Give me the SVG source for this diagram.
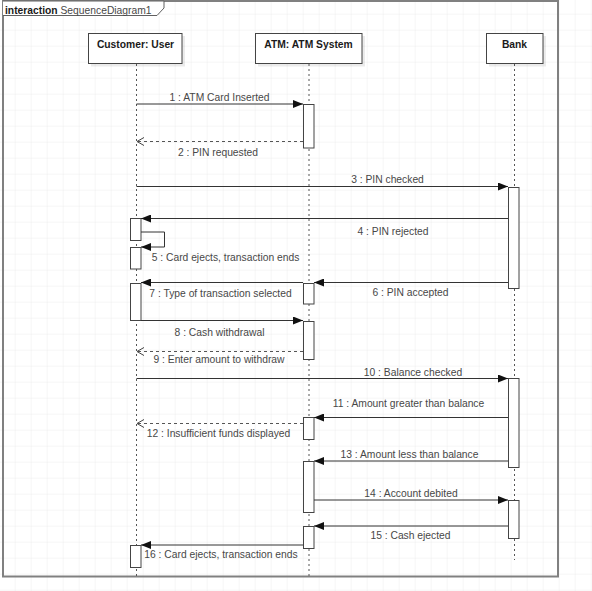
<svg xmlns="http://www.w3.org/2000/svg" width="592" height="591" viewBox="0 0 592 591">
  <defs>
    <pattern id="grid" x="-0.3" y="-1.3" width="16" height="16" patternUnits="userSpaceOnUse">
      <path d="M16 0 V16 M0 16 H16" fill="none" stroke="#ededed" stroke-width="1"/>
    </pattern>
    <marker id="filled" markerWidth="10" markerHeight="8" refX="10" refY="4" orient="auto" markerUnits="userSpaceOnUse">
      <path d="M0,0 L10,4 L0,8 Z" fill="#111"/>
    </marker>
    <marker id="open" markerWidth="8" markerHeight="10" refX="7" refY="5" orient="auto" markerUnits="userSpaceOnUse">
      <path d="M0,1 L7,5 L0,9" fill="none" stroke="#444" stroke-width="1"/>
    </marker>
  </defs>
  <style>
    text { font-family: "Liberation Sans", Arial, sans-serif; font-size: 10.3px; fill: #474747; }
    .head { font-weight: bold; fill: #1a1a1a; text-anchor: middle; }
    .lbl { text-anchor: middle; }
    .box { fill: #fff; stroke: #444; stroke-width: 1; }
    .shadow { fill: #000; opacity: 0.08; }
    .life { stroke: #555; stroke-width: 1; stroke-dasharray: 2 3; fill: none; }
    .act { fill: #fff; stroke: #444; stroke-width: 1; }
    .msg { stroke: #333; stroke-width: 1; fill: none; marker-end: url(#filled); }
    .ret { stroke: #555; stroke-width: 1; stroke-dasharray: 3 3; fill: none; marker-end: url(#open); }
  </style>
  <rect width="592" height="591" fill="#fff"/>
  <rect width="592" height="591" fill="url(#grid)"/>

  <g id="frame">
    <rect x="3" y="1" width="555" height="575.5" fill="none" stroke="#808080" stroke-width="2"/>
    <path d="M3,1 H164 V8 L157,15.5 H3" fill="#fff" stroke="#606060" stroke-width="1"/>
    <text x="5" y="13.5"><tspan font-weight="bold" fill="#1a1a1a">interaction</tspan> SequenceDiagram1</text>
  </g>

  <g id="customer">
    <rect class="shadow" x="91" y="36" width="94" height="30.5"/>
    <rect class="box" x="88.5" y="33.5" width="93.5" height="30"/>
    <text class="head" x="135.5" y="47.5">Customer: User</text>
    <line class="life" x1="136.5" y1="64" x2="136.5" y2="577"/>
    <rect class="act" x="130.5" y="218.5" width="10.5" height="22"/>
    <rect class="act" x="130.5" y="247.5" width="10.5" height="21.5"/>
    <rect class="act" x="130.5" y="283.5" width="10.5" height="37"/>
    <rect class="act" x="130.5" y="545.5" width="10.5" height="22"/>
  </g>

  <g id="atm">
    <rect class="shadow" x="258" y="36" width="107" height="30.5"/>
    <rect class="box" x="255.5" y="33.5" width="106.5" height="30"/>
    <text class="head" x="308.5" y="47.5">ATM: ATM System</text>
    <line class="life" x1="309" y1="64" x2="309" y2="577"/>
    <rect class="act" x="303.5" y="104.5" width="10.5" height="43.5"/>
    <rect class="act" x="303.5" y="283.5" width="10.5" height="20.5"/>
    <rect class="act" x="303.5" y="321.5" width="10.5" height="38"/>
    <rect class="act" x="303.5" y="417.5" width="10.5" height="22"/>
    <rect class="act" x="303.5" y="461.5" width="10.5" height="51"/>
    <rect class="act" x="303.5" y="526.5" width="10.5" height="22"/>
  </g>

  <g id="bank">
    <rect class="shadow" x="489" y="36" width="57" height="30.5"/>
    <rect class="box" x="486.5" y="33.5" width="56.5" height="30"/>
    <text class="head" x="514.5" y="47.5">Bank</text>
    <line class="life" x1="514.5" y1="64" x2="514.5" y2="560"/>
    <rect class="act" x="508.5" y="187.5" width="10.5" height="101"/>
    <rect class="act" x="508.5" y="378.5" width="10.5" height="89"/>
    <rect class="act" x="508.5" y="500.5" width="10.5" height="38"/>
  </g>

  <g id="connectors">
    <line class="msg" x1="136.5" y1="104" x2="303" y2="104"/>
    <text class="lbl" x="219.5" y="101">1 : ATM Card Inserted</text>

    <line class="ret" x1="303" y1="141.5" x2="137" y2="141.5"/>
    <text class="lbl" x="218" y="155.5">2 : PIN requested</text>

    <line class="msg" x1="136.5" y1="186.5" x2="508" y2="186.5"/>
    <text class="lbl" x="387.5" y="183">3 : PIN checked</text>

    <line class="msg" x1="508" y1="218.5" x2="141" y2="218.5"/>
    <text class="lbl" x="393" y="234.5">4 : PIN rejected</text>

    <polyline class="msg" points="141,232 164.5,232 164.5,247 141,247"/>
    <text class="lbl" x="225.5" y="260.5">5 : Card ejects, transaction ends</text>

    <line class="msg" x1="508" y1="282.5" x2="314" y2="282.5"/>
    <text class="lbl" x="410.5" y="295.5">6 : PIN accepted</text>

    <line class="msg" x1="303" y1="282.5" x2="141" y2="282.5"/>
    <text class="lbl" x="220.5" y="296.5">7 : Type of transaction selected</text>

    <line class="msg" x1="141" y1="320.5" x2="303" y2="320.5"/>
    <text class="lbl" x="219.5" y="336">8 : Cash withdrawal</text>

    <line class="ret" x1="303" y1="351.5" x2="137" y2="351.5"/>
    <text class="lbl" x="219" y="363">9 : Enter amount to withdraw</text>

    <line class="msg" x1="136.5" y1="378.5" x2="508" y2="378.5"/>
    <text class="lbl" x="413" y="375.5">10 : Balance checked</text>

    <line class="msg" x1="508" y1="417.5" x2="314" y2="417.5"/>
    <text class="lbl" x="408.5" y="407">11 : Amount greater than balance</text>

    <line class="ret" x1="303" y1="423.5" x2="137" y2="423.5"/>
    <text class="lbl" x="218.5" y="437">12 : Insufficient funds displayed</text>

    <line class="msg" x1="508" y1="461" x2="314" y2="461"/>
    <text class="lbl" x="409.5" y="458">13 : Amount less than balance</text>

    <line class="msg" x1="314" y1="500" x2="508" y2="500"/>
    <text class="lbl" x="411" y="497">14 : Account debited</text>

    <line class="msg" x1="508" y1="526" x2="314" y2="526"/>
    <text class="lbl" x="410.5" y="539">15 : Cash ejected</text>

    <line class="msg" x1="303" y1="545" x2="141" y2="545"/>
    <text class="lbl" x="221" y="558">16 : Card ejects, transaction ends</text>
  </g>
</svg>
